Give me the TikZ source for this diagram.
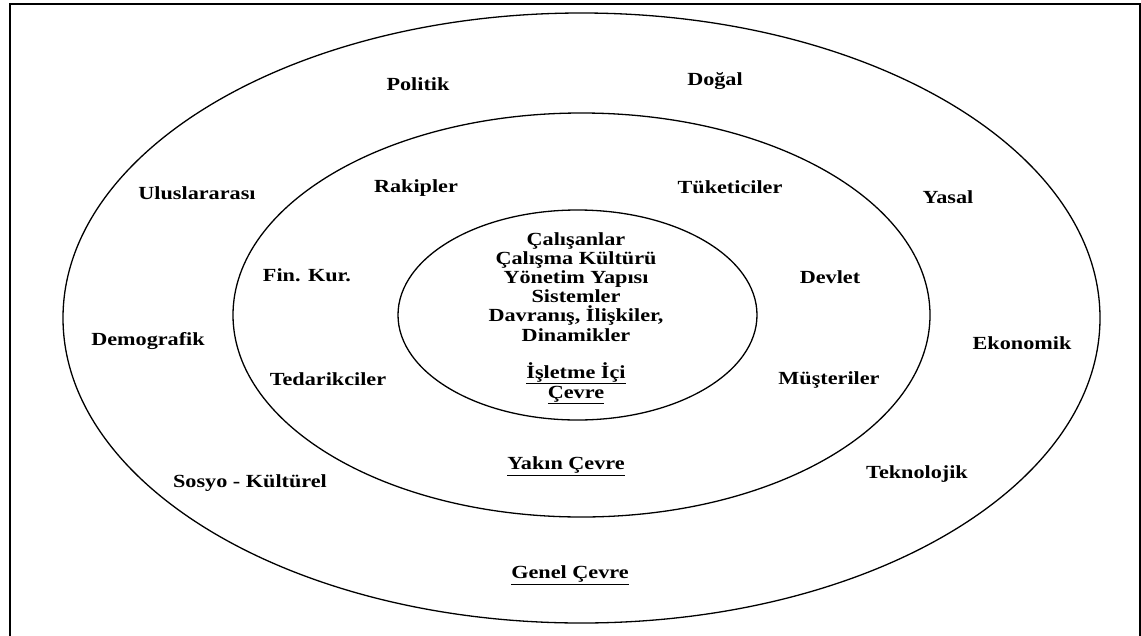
\documentclass[tikz,border=0pt]{standalone}
\usepackage{fontspec}
\usetikzlibrary{shapes.geometric}
\setmainfont{Liberation Serif}[FakeStretch=1.2]
\begin{document}
\begin{tikzpicture}[x=1pt,y=-1pt,
  lbl/.style={font=\fontsize{18.5}{19.2}\selectfont\bfseries, inner sep=0pt, align=center},
  ring/.style={draw=black, line width=1.3pt}]
\useasboundingbox (0,0) rectangle (1141,635);
\node[draw=black, line width=2.2pt, minimum width=1130pt, minimum height=650pt, anchor=north west, inner sep=0pt] (frame) at (9,3) {};
\node[ring, ellipse, minimum width=1037pt, minimum height=610pt, inner sep=0pt] (outer) at (581.5,318) {};
\node[ring, ellipse, minimum width=697pt, minimum height=404pt, inner sep=0pt] (middle) at (581.5,315) {};
\node[ring, ellipse, minimum width=359pt, minimum height=210pt, inner sep=0pt] (inner) at (577.5,315) {};
% general environment
\node[lbl] (politik) at (418,84) {Politik};
\node[lbl] (dogal) at (715,81) {Doğal};
\node[lbl] (ulus) at (197,193) {Uluslararası};
\node[lbl] (yasal) at (948,197) {Yasal};
\node[lbl] (demo) at (148,341) {Demografik};
\node[lbl] (eko) at (1022,343) {Ekonomik};
\node[lbl] (sosyo) at (250,483) {Sosyo - Kültürel};
\node[lbl] (tekno) at (917,474) {Teknolojik};
\node[lbl] (genel) at (570,575) {\underline{Genel Çevre}};
% near environment
\node[lbl] (rakip) at (416,188) {Rakipler};
\node[lbl] (tuket) at (730,187) {Tüketiciler};
\node[lbl] (fin) at (307,275) {Fin. Kur.};
\node[lbl] (devlet) at (830,277) {Devlet};
\node[lbl] (tedar) at (328,379) {Tedarikciler};
\node[lbl] (muster) at (829,380) {Müşteriler};
\node[lbl] (yakin) at (566,466) {\underline{Yakın Çevre}};
% internal
\node[lbl, anchor=north] (ic) at (576,232) {Çalışanlar\\Çalışma Kültürü\\Yönetim Yapısı\\Sistemler\\Davranış, İlişkiler,\\Dinamikler};
\node[lbl, anchor=north] (isletme) at (576,362) {\underline{İşletme İçi}\\[1pt]\underline{Çevre}};
\end{tikzpicture}
\end{document}
